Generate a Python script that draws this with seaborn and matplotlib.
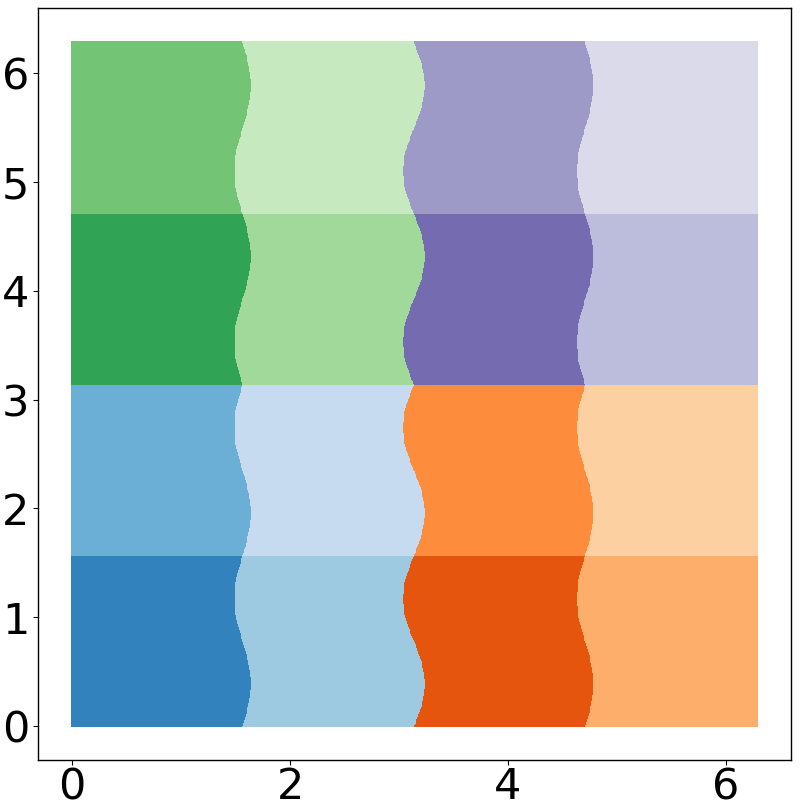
import numpy as np
import pandas as pd
import matplotlib
matplotlib.use("Agg")
import matplotlib.pyplot as plt
import seaborn as sns

# Category grid: 4 columns x 4 rows over [0, 2pi]
col_edges = [0.0, np.pi / 2, np.pi, 3 * np.pi / 2, 2 * np.pi]
row_edges = [0.0, np.pi / 2, np.pi, 3 * np.pi / 2, 2 * np.pi]
wave_amps = [0.075, 0.10, 0.075]   # horizontal wobble of each inner column border
wave_freq = 4                      # waves per 2*pi of y
# tab20c colours (without greys) indexed by cell
cell_colors = ["#3182bd", "#6baed6", "#9ecae1", "#c6dbef",
               "#e6550d", "#fd8d3c", "#fdae6b", "#fdd0a2",
               "#31a354", "#74c476", "#a1d99b", "#c7e9c0",
               "#756bb1", "#9e9ac8", "#bcbddc", "#dadaeb"]
x_ticks = [0, 2, 4, 6]
y_ticks = [0, 1, 2, 3, 4, 5, 6]

n = 800
gx, gy = np.meshgrid(np.linspace(col_edges[0], col_edges[-1], n),
                     np.linspace(row_edges[0], row_edges[-1], n))
gx = gx.ravel(); gy = gy.ravel()
sign = np.where(gy < np.pi, 1.0, -1.0)
col = np.zeros(gx.shape, dtype=int)
for edge, amp in zip(col_edges[1:-1], wave_amps):
    border = edge + sign * amp * np.sin(wave_freq * gy)
    col += (gx > border).astype(int)
row = np.clip(np.digitize(gy, row_edges[1:-1]), 0, 3)
idx = 8 * (row // 2) + 2 * col + (row % 2)
df = pd.DataFrame({"x": gx, "y": gy, "cell": idx})

sns.set_style("ticks")
fig, ax = plt.subplots(figsize=(8.04, 8.07), dpi=100)
fig.subplots_adjust(left=0.047, right=0.984, top=0.99, bottom=0.058)
sns.scatterplot(data=df, x="x", y="y", hue="cell", palette=cell_colors,
                hue_order=list(range(16)), s=2.5, marker="s", linewidth=0,
                legend=False, ax=ax, rasterized=True)
for s in ax.spines.values():
    s.set_color("black")
    s.set_linewidth(1.0)
ax.set_xlabel(""); ax.set_ylabel("")
ax.set_xticks(x_ticks); ax.set_yticks(y_ticks)
ax.tick_params(labelsize=31, colors="black", length=3.5, width=0.8)
ax.tick_params(axis="x", pad=1.0)
ax.tick_params(axis="y", pad=2.5)
ax.set_xlim(-0.314, 2 * np.pi + 0.314)
ax.set_ylim(-0.314, 2 * np.pi + 0.314)
fig.savefig("out.png", dpi=100)
